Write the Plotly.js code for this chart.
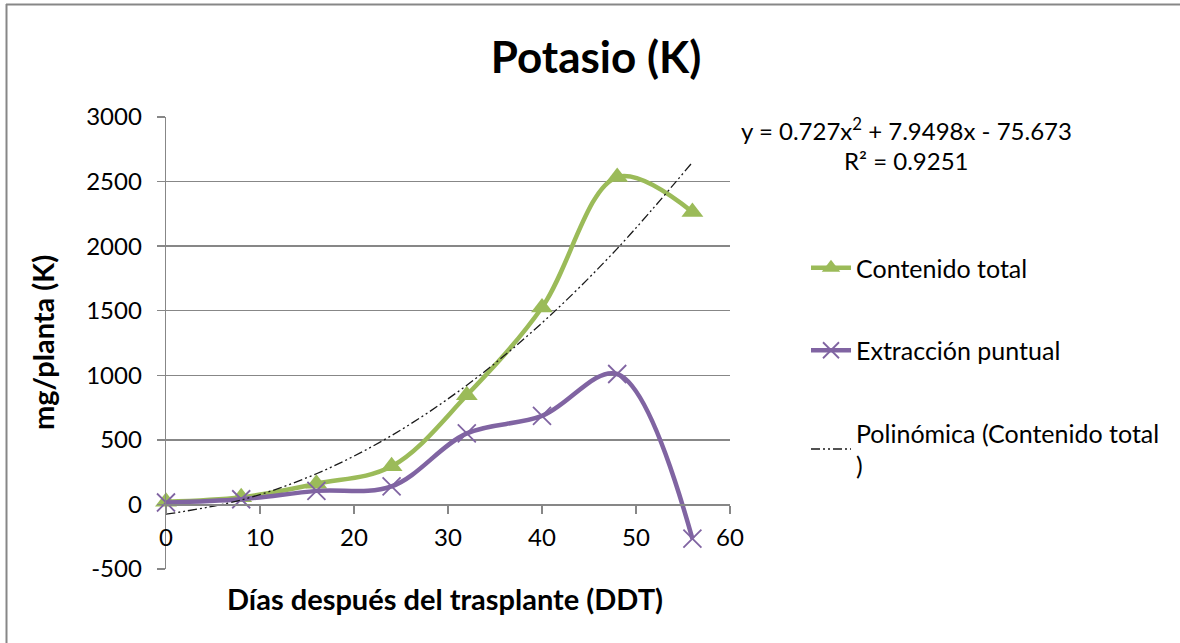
<!DOCTYPE html>
<html>
<head>
<meta charset="utf-8">
<script src="https://cdn.plot.ly/plotly-3.0.1.min.js"></script>
<style>html,body{margin:0;padding:0;background:#fff;}#chart{width:1180px;height:643px;}</style>
</head>
<body>
<div id="chart"></div>
<script>
// ---- data ----
const dias = [0, 8, 16, 24, 32, 40, 48, 56];
const contenidoTotal = [20, 55, 160, 295, 845, 1525, 2535, 2265];
const extraccionPuntual = [15, 40, 105, 140, 550, 685, 1010, -265];
// trendline coefficients shown on the chart: y = a x^2 + b x + c
const polyCoef = [0.727, 7.9498, -75.673];
const yTicks = [-500, 0, 500, 1000, 1500, 2000, 2500, 3000];
const xTicks = [0, 10, 20, 30, 40, 50, 60];

const trend = dias.map(x => polyCoef[0]*x*x + polyCoef[1]*x + polyCoef[2]);

// ---- geometry ----
const W = 1180, H = 643;
const L = 166, R = 730, T = 117, B = 569;
const px2x = p => (p - L) / (R - L);
const px2y = p => (B - p) / (B - T);
const yMin = -500, yMax = 3000;

const FONT = 'Lato, "Open Sans", sans-serif';
const GREEN = '#9BBB59', PURPLE = '#8064A2', GRID = '#878787';

const traces = [
  {
    x: dias, y: contenidoTotal, name: 'Contenido total', type: 'scatter', mode: 'lines+markers',
    line: {color: GREEN, width: 4.5, shape: 'spline', smoothing: 1},
    marker: {symbol: 'triangle-up', size: 19, color: GREEN},
    cliponaxis: false, legendgroup: 'a'
  },
  {
    x: dias, y: extraccionPuntual, name: 'Extracción puntual', type: 'scatter', mode: 'lines+markers',
    line: {color: PURPLE, width: 4.5, shape: 'spline', smoothing: 1},
    marker: {symbol: 'x-thin-open', size: 18, color: PURPLE, line: {color: PURPLE, width: 1.8}},
    cliponaxis: false, legendgroup: 'b'
  },
  {
    x: dias, y: trend, name: 'Polinómica (Contenido total<br>)', type: 'scatter', mode: 'lines',
    line: {color: '#1a1a1a', width: 1.3, shape: 'spline', smoothing: 1, dash: '9px,3px,2px,3px,2px,3px'},
    cliponaxis: false, legendgroup: 'c'
  }
];

const layout = {
  width: W, height: H,
  margin: {l: L, r: W - R, t: T, b: H - B, pad: 0},
  paper_bgcolor: '#fff', plot_bgcolor: '#fff',
  font: {family: FONT, size: 24, color: '#000'},
  title: {
    text: '<b>Potasio (K)</b>', font: {family: FONT, size: 44, color: '#000'},
    xref: 'container', yref: 'container', x: 596 / W, y: 1 - 58 / H,
    xanchor: 'center', yanchor: 'middle'
  },
  xaxis: {
    range: [0, 60], tickvals: xTicks, ticktext: xTicks.map(String),
    anchor: 'free', position: (0 - yMin) / (yMax - yMin),
    showline: true, linecolor: GRID, linewidth: 1.3,
    ticks: 'outside', ticklen: 8, tickcolor: GRID, tickwidth: 1.3,
    showgrid: false, zeroline: false, ticklabelstandoff: 3,
    tickfont: {family: FONT, size: 24, color: '#000'}
  },
  yaxis: {
    range: [yMin, yMax], tickvals: yTicks, ticktext: yTicks.map(String),
    showline: true, linecolor: GRID, linewidth: 1.3,
    ticks: 'outside', ticklen: 8, tickcolor: GRID, tickwidth: 1.3,
    showgrid: true, gridcolor: GRID, gridwidth: 1.3, zeroline: false,
    ticklabelstandoff: 10,
    tickfont: {family: FONT, size: 24, color: '#000'}
  },
  showlegend: true,
  legend: {
    x: px2x(806), y: px2y(245), xanchor: 'left', yanchor: 'top',
    font: {family: FONT, size: 25, color: '#000'},
    tracegroupgap: 47, bgcolor: 'rgba(0,0,0,0)', itemwidth: 40
  },
  annotations: [
    {text: '<b>mg/planta (K)</b>', xref: 'paper', yref: 'paper', x: px2x(42), y: px2y(343),
     textangle: -90, showarrow: false, font: {family: FONT, size: 29, color: '#000'},
     xanchor: 'center', yanchor: 'middle'},
    {text: '<b>Días después del trasplante (DDT)</b>', xref: 'paper', yref: 'paper', x: px2x(445), y: px2y(598),
     showarrow: false, font: {family: FONT, size: 29, color: '#000'}, xanchor: 'center', yanchor: 'middle'},
    {text: 'y = ' + polyCoef[0] + 'x<sup>2</sup> + ' + polyCoef[1] + 'x - ' + Math.abs(polyCoef[2]),
     xref: 'paper', yref: 'paper', x: px2x(906), y: px2y(129),
     showarrow: false, font: {family: FONT, size: 24, color: '#000'}, xanchor: 'center', yanchor: 'middle'},
    {text: 'R² = 0.9251', xref: 'paper', yref: 'paper', x: px2x(906), y: px2y(160),
     showarrow: false, font: {family: FONT, size: 24, color: '#000'}, xanchor: 'center', yanchor: 'middle'}
  ],
  shapes: [
    {type: 'line', xref: 'paper', yref: 'paper', x0: px2x(6), x1: px2x(1180), y0: px2y(4.5), y1: px2y(4.5),
     line: {color: GRID, width: 2}},
    {type: 'line', xref: 'paper', yref: 'paper', x0: px2x(6.5), x1: px2x(6.5), y0: px2y(4), y1: px2y(643),
     line: {color: GRID, width: 2}}
  ]
};

Plotly.newPlot('chart', traces, layout, {displayModeBar: false, staticPlot: true});
</script>
</body>
</html>
